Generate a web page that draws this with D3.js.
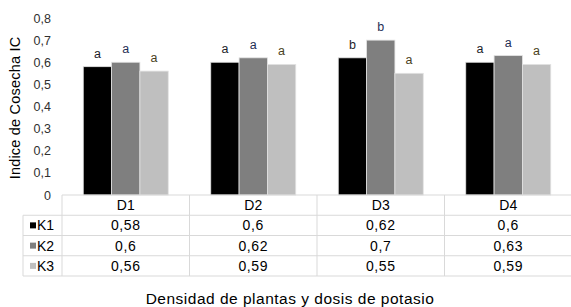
<!DOCTYPE html>
<html>
<head>
<meta charset="utf-8">
<script src="https://cdn.jsdelivr.net/npm/d3@7"></script>
<style>
  body { margin: 0; background: #fff; }
  text { font-family: "Liberation Sans", Arial, sans-serif; }
</style>
</head>
<body>
<svg id="chart" width="571" height="307"></svg>
<script>
// datos ---------------------------------------------------------------
const densidades = ["D1", "D2", "D3", "D4"];
const dosis = ["K1", "K2", "K3"];
const valoresK1 = [0.58, 0.6, 0.62, 0.6];
const valoresK2 = [0.6, 0.62, 0.7, 0.63];
const valoresK3 = [0.56, 0.59, 0.55, 0.59];
const letrasK1 = ["a", "a", "b", "a"];
const letrasK2 = ["a", "a", "b", "a"];
const letrasK3 = ["a", "a", "a", "a"];
const yTicks = [0, 0.1, 0.2, 0.3, 0.4, 0.5, 0.6, 0.7, 0.8];

const series = [
  { key: "K1", values: valoresK1, letras: letrasK1, color: "#000000", txt: "#1c1c2a" },
  { key: "K2", values: valoresK2, letras: letrasK2, color: "#7f7f7f", txt: "#1f2f55" },
  { key: "K3", values: valoresK3, letras: letrasK3, color: "#bfbfbf", txt: "#4a3f22" }
];

const fmt = v => String(v).replace(".", ",");

// escalas -------------------------------------------------------------
const svg = d3.select("#chart");
const x = d3.scaleBand().domain(densidades).range([62, 572]).padding(0);
const xk = d3.scaleBand().domain(dosis).range([0, x.bandwidth()]).paddingInner(0).paddingOuter(0.75);
const y = d3.scaleLinear().domain([0, 0.8]).range([195, 18]);
const rows = d3.scaleBand().domain(["hdr", ...dosis]).range([195, 276]);

// eje y (solo etiquetas)
const yAxis = svg.append("g")
  .attr("transform", "translate(52,0)")
  .call(d3.axisLeft(y).tickValues(yTicks).tickSize(0).tickPadding(1).tickFormat(fmt));
yAxis.select(".domain").remove();
yAxis.selectAll("text")
  .attr("font-size", 12.5)
  .attr("fill", "#303030")
  .style("font-family", "Liberation Sans, Arial, sans-serif");

svg.append("text")
  .attr("transform", "translate(20,108) rotate(-90)")
  .attr("text-anchor", "middle")
  .attr("font-size", 14.5)
  .attr("letter-spacing", 0.2)
  .attr("fill", "#000")
  .text("Indice de Cosecha IC");

// barras --------------------------------------------------------------
const grupos = svg.selectAll("g.grupo")
  .data(densidades)
  .join("g")
  .attr("class", "grupo")
  .attr("transform", d => `translate(${x(d)},0)`);

grupos.selectAll("rect")
  .data((d, i) => series.map(s => ({ s, v: s.values[i], l: s.letras[i] })))
  .join("rect")
  .attr("x", d => xk(d.s.key))
  .attr("y", d => y(d.v))
  .attr("width", xk.bandwidth())
  .attr("height", d => y(0) - y(d.v))
  .attr("fill", d => d.s.color)
  .attr("stroke", "#e2e2e2")
  .attr("stroke-width", 0.8);

grupos.selectAll("text.letra")
  .data((d, i) => series.map(s => ({ s, v: s.values[i], l: s.letras[i] })))
  .join("text")
  .attr("class", "letra")
  .attr("x", d => xk(d.s.key) + xk.bandwidth() / 2)
  .attr("y", d => y(d.v) - 9)
  .attr("text-anchor", "middle")
  .attr("font-size", 12.5)
  .attr("fill", d => d.s.txt)
  .text(d => d.l);

// tabla de datos ------------------------------------------------------
const lineColor = "#d9d9d9";
const tabla = svg.append("g");
const xEnd = 572;

// lineas horizontales
tabla.append("line").attr("x1", 62).attr("x2", xEnd).attr("y1", rows("hdr")).attr("y2", rows("hdr"));
dosis.forEach(k => {
  tabla.append("line").attr("x1", 23).attr("x2", xEnd).attr("y1", rows(k)).attr("y2", rows(k));
});
tabla.append("line").attr("x1", 23).attr("x2", xEnd).attr("y1", rows.range()[1]).attr("y2", rows.range()[1]);
// lineas verticales
tabla.append("line").attr("x1", 23).attr("x2", 23).attr("y1", rows("K1")).attr("y2", rows.range()[1]);
densidades.forEach(d => {
  tabla.append("line").attr("x1", x(d)).attr("x2", x(d)).attr("y1", rows("hdr")).attr("y2", rows.range()[1]);
});
tabla.selectAll("line").attr("stroke", lineColor).attr("stroke-width", 1);

// encabezados
tabla.selectAll("text.hdr")
  .data(densidades)
  .join("text")
  .attr("class", "hdr")
  .attr("x", d => x(d) + x.bandwidth() / 2)
  .attr("y", rows("hdr") + rows.bandwidth() / 2)
  .attr("dy", "0.36em")
  .attr("text-anchor", "middle")
  .attr("font-size", 14)
  .attr("fill", "#000")
  .text(d => d);

// filas
series.forEach(s => {
  const cy = rows(s.key) + rows.bandwidth() / 2;
  tabla.append("rect")
    .attr("x", 30).attr("y", cy - 3)
    .attr("width", 6).attr("height", 6)
    .attr("fill", s.color);
  tabla.append("text")
    .attr("x", 37).attr("y", cy).attr("dy", "0.36em")
    .attr("font-size", 14).attr("fill", "#000")
    .text(s.key);
  tabla.selectAll(null)
    .data(s.values)
    .join("text")
    .attr("x", (v, i) => x(densidades[i]) + x.bandwidth() / 2)
    .attr("y", cy).attr("dy", "0.36em")
    .attr("text-anchor", "middle")
    .attr("font-size", 14)
    .attr("letter-spacing", 0.6)
    .attr("fill", "#000")
    .text(v => fmt(v));
});

// titulo eje x
svg.append("text")
  .attr("x", 290).attr("y", 298)
  .attr("dy", "0.36em")
  .attr("text-anchor", "middle")
  .attr("font-size", 15.5)
  .attr("letter-spacing", 0.5)
  .attr("fill", "#000")
  .text("Densidad de plantas y dosis de potasio");
</script>
</body>
</html>
